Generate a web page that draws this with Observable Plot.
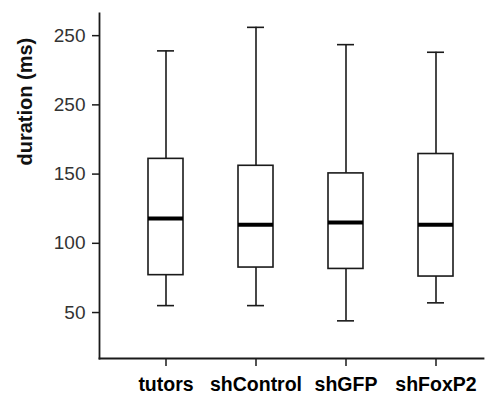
<!DOCTYPE html>
<html>
<head>
<meta charset="utf-8">
<script src="https://cdn.jsdelivr.net/npm/d3@7"></script>
<script src="https://cdn.jsdelivr.net/npm/@observablehq/plot@0.6"></script>
<style>
  html, body { margin: 0; padding: 0; background: #fff; }
  svg { display: block; }
</style>
</head>
<body>
<div id="chart"></div>
<script>
const groups = ["tutors", "shControl", "shGFP", "shFoxP2"];
const whiskerLow = [55, 55, 44, 57];
const q1 = [77, 82.5, 81.5, 76];
const median = [118, 113.5, 115, 113.5];
const q3 = [161, 156, 150.5, 164.5];
const whiskerHigh = [239, 256, 243.5, 238];
const yTickValues = [50, 100, 150, 200, 250];
const yTickLabels = ["50", "100", "150", "250", "250"];
const yTitle = ["duration (ms)"];

const data = groups.map((g, i) => ({
  group: g, low: whiskerLow[i], q1: q1[i], median: median[i], q3: q3[i], high: whiskerHigh[i]
}));

const ink = "#1a1a1a";
const chart = Plot.plot({
  width: 485,
  height: 394,
  marginLeft: 99,
  marginRight: 2,
  marginTop: 13,
  marginBottom: 36,
  style: { fontFamily: "Liberation Sans, Arial, sans-serif", fontSize: "19px", background: "#fff" },
  x: { type: "band", domain: groups, paddingInner: 0.6136, paddingOuter: 0, insetLeft: 47.8, insetRight: 29.5 },
  y: { domain: [16.8, 266] },
  marks: [
    Plot.ruleX(data, { x: "group", y1: "low", y2: "q1", stroke: ink, strokeWidth: 1.6 }),
    Plot.ruleX(data, { x: "group", y1: "q3", y2: "high", stroke: ink, strokeWidth: 1.6 }),
    Plot.tickY(data, { x: "group", y: "low", stroke: ink, strokeWidth: 1.6, insetLeft: 9, insetRight: 9 }),
    Plot.tickY(data, { x: "group", y: "high", stroke: ink, strokeWidth: 1.6, insetLeft: 9, insetRight: 9 }),
    Plot.barY(data, { x: "group", y1: "q1", y2: "q3", fill: "white", stroke: ink, strokeWidth: 1.6 }),
    Plot.tickY(data, { x: "group", y: "median", stroke: "#000", strokeWidth: 4 }),
    Plot.axisY({
      ticks: yTickValues,
      tickFormat: (d) => yTickLabels[yTickValues.indexOf(d)],
      tickSize: 7,
      tickPadding: 7,
      stroke: ink,
      strokeWidth: 1.5,
      fill: "#333",
      label: null
    }),
    Plot.text(yTitle, {
      text: (d) => d,
      frameAnchor: "left",
      rotate: -90,
      dx: -73.5,
      dy: -20.5,
      fontWeight: "bold",
      fontSize: 20,
      fill: "#111"
    }),
    Plot.axisX({
      tickSize: 8,
      tickPadding: 11,
      stroke: ink,
      strokeWidth: 1.5,
      fill: "#000",
      fontWeight: "bold",
      fontSize: 19.5,
      label: null
    }),
    Plot.frame({ anchor: "left", stroke: ink, strokeWidth: 1.8 }),
    Plot.frame({ anchor: "bottom", stroke: ink, strokeWidth: 1.8 })
  ]
});
document.getElementById("chart").appendChild(chart);
</script>
</body>
</html>
